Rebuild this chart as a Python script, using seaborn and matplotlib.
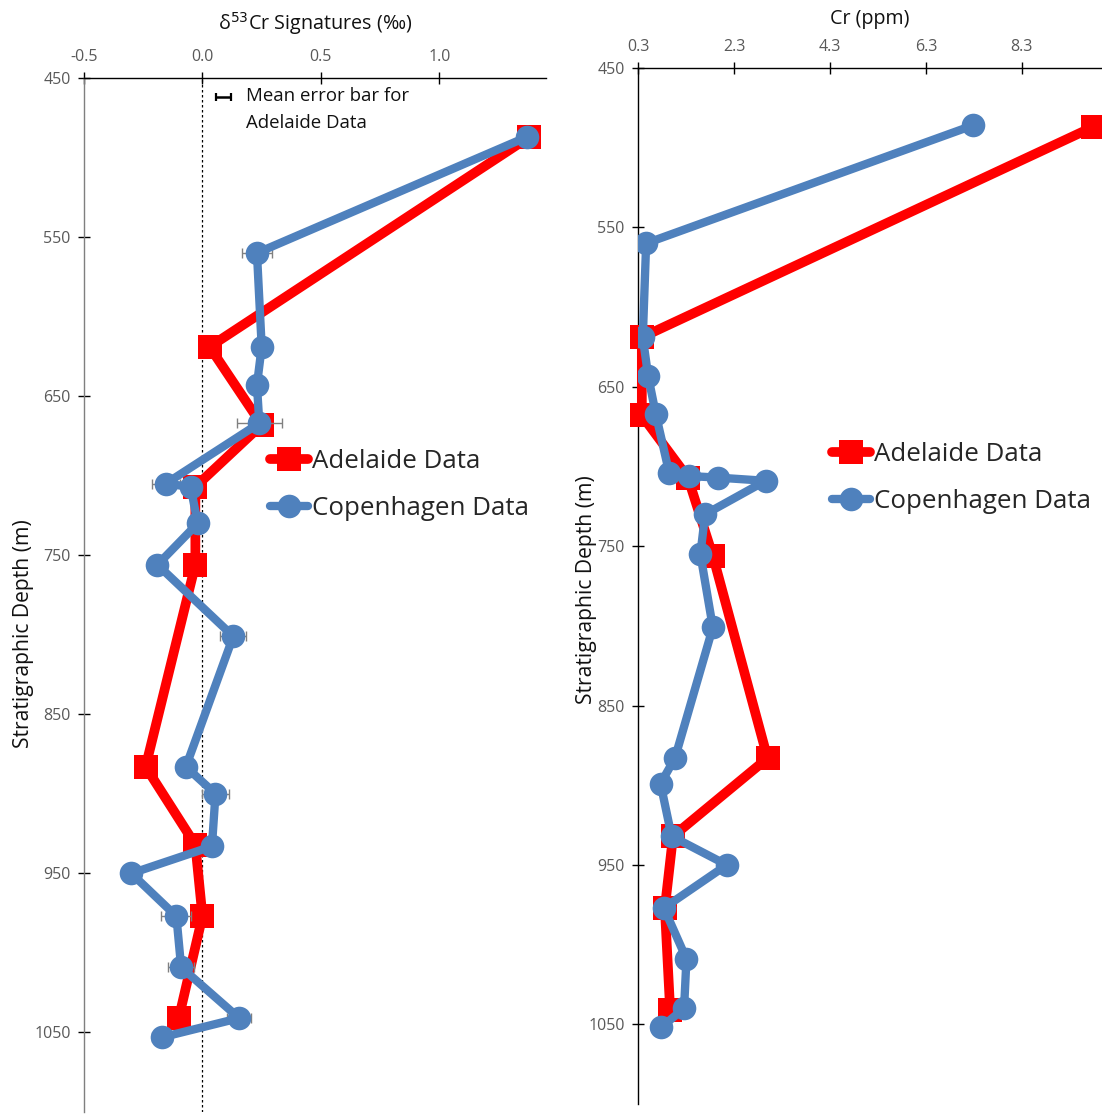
import numpy as np
import pandas as pd
import seaborn as sns
import matplotlib
matplotlib.use("Agg")
import matplotlib.pyplot as plt
from matplotlib.lines import Line2D

# ---------------- data ----------------
adl_depth = [487, 619, 668, 707, 756, 883, 932, 977, 1041]
adl_d53 = [1.38, 0.03, 0.25, -0.03, -0.03, -0.24, -0.03, 0.0, -0.10]
adl_cr = [9.78, 0.38, 0.38, 1.34, 1.86, 3.0, 1.03, 0.86, 0.97]

cph_d53_depth = [487, 560, 619, 643, 667, 705, 707, 730, 756, 801, 883, 900,
                 933, 950, 977, 1009, 1041, 1053]
cph_d53 = [1.37, 0.23, 0.25, 0.23, 0.24, -0.155, -0.05, -0.02, -0.19, 0.13,
           -0.07, 0.055, 0.04, -0.30, -0.11, -0.09, 0.155, -0.17]
cph_d53_err = [0.03, 0.065, 0.03, 0.03, 0.095, 0.06, 0.03, 0.03, 0.03, 0.055,
               0.03, 0.057, 0.03, 0.03, 0.063, 0.055, 0.05, 0.042]

cph_cr_depth = [486, 560, 619, 643, 667, 704, 706, 707, 709, 730, 755, 801,
                883, 899, 932, 950, 977, 1009, 1040, 1052]
cph_cr = [7.28, 0.47, 0.40, 0.51, 0.67, 0.95, 1.36, 1.97, 2.96, 1.70, 1.60,
          1.86, 1.07, 0.77, 1.00, 2.15, 0.84, 1.31, 1.26, 0.78]

mean_err_x, mean_err_y, mean_err = 0.09, 462, 0.032

left_xticks = [-0.5, 0.0, 0.5, 1.0]
right_xticks = [0.3, 2.3, 4.3, 6.3, 8.3]
depth_ticks = [450, 550, 650, 750, 850, 950, 1050]

# ---------------- style ----------------
sns.set_style("white")
plt.rcParams["font.family"] = ["Open Sans", "DejaVu Sans"]

RED = "#FF0000"
BLUE = "#4F81BD"
TICKC = "#595959"

W, H = 1102, 1118
fig = plt.figure(figsize=(W / 100, H / 100), dpi=100)

axL = fig.add_axes([84 / W, 1 - 1112 / H, (546 - 84) / W, (1112 - 78) / H])
axR = fig.add_axes([638 / W, 1 - 1104 / H, (1102 - 638) / W, (1104 - 68) / H])

adl_L = pd.DataFrame({"x": adl_d53, "depth": adl_depth})
cph_L = pd.DataFrame({"x": cph_d53, "depth": cph_d53_depth, "err": cph_d53_err})
adl_R = pd.DataFrame({"x": adl_cr, "depth": adl_depth})
cph_R = pd.DataFrame({"x": cph_cr, "depth": cph_cr_depth})

# left panel
axL.axvline(0, color="black", ls=(0, (2, 2)), lw=0.9, zorder=1)
sns.lineplot(data=adl_L, x="x", y="depth", sort=False, estimator=None, ax=axL,
             color=RED, lw=7, marker="s", markersize=17, markeredgewidth=0,
             zorder=3)
axL.errorbar(cph_L["x"], cph_L["depth"], xerr=cph_L["err"], fmt="none",
             ecolor="#808080", elinewidth=1, capsize=3.5, capthick=1, zorder=4)
sns.lineplot(data=cph_L, x="x", y="depth", sort=False, estimator=None, ax=axL,
             color=BLUE, lw=6, marker="o", markersize=17, markeredgewidth=0,
             zorder=5)
axL.errorbar([mean_err_x], [mean_err_y], xerr=[mean_err], fmt="none",
             ecolor="black", elinewidth=1.8, capsize=3, capthick=1.6)
axL.text(0.185, 470, "Mean error bar for\nAdelaide Data", fontsize=13.4,
         va="center", ha="left", linespacing=1.65, color="#111111")

# right panel
sns.lineplot(data=adl_R, x="x", y="depth", sort=False, estimator=None, ax=axR,
             color=RED, lw=7, marker="s", markersize=17, markeredgewidth=0,
             zorder=3, clip_on=False)
sns.lineplot(data=cph_R, x="x", y="depth", sort=False, estimator=None, ax=axR,
             color=BLUE, lw=6, marker="o", markersize=17, markeredgewidth=0,
             zorder=5)

for ax, xlim, xt, xlabel in [
        (axL, (-0.5, 1.45), left_xticks, "δ$^{53}$Cr Signatures (‰)"),
        (axR, (0.3, 9.97), right_xticks, "Cr (ppm)")]:
    ax.set_xlim(*xlim)
    ax.set_ylim(1100, 450)
    ax.xaxis.tick_top()
    ax.xaxis.set_label_position("top")
    ax.set_xticks(xt)
    ax.set_xticklabels(["{:.1f}".format(v) for v in xt])
    ax.set_yticks(depth_ticks)
    ax.set_xlabel(xlabel, fontsize=14.2, color="#111111")
    ax.set_ylabel("Stratigraphic Depth (m)", fontsize=15.2, color="#111111")
    ax.tick_params(axis="both", direction="inout", length=9, width=1,
                   colors="black", labelcolor=TICKC, labelsize=11.5,
                   top=True, left=True, bottom=False, right=False)
    ax.tick_params(axis="x", pad=5)
    ax.tick_params(axis="y", pad=5)
    for s in ["bottom", "right"]:
        ax.spines[s].set_visible(False)
    ax.spines["top"].set_color("black")
    ax.spines["top"].set_linewidth(1)
    ax.spines["left"].set_linewidth(1)
    ax.set_facecolor("none")
    ax.grid(False)

axL.yaxis.set_label_coords((34 - 84) / 462, (1112 - 634) / 1034)
axR.yaxis.set_label_coords((597 - 638) / 464, (1104 - 590) / 1036)
axL.xaxis.set_label_coords(0.5, (1112 - 30) / 1034)
axR.xaxis.set_label_coords(0.5, (1104 - 24) / 1036)

axL.spines["left"].set_color("#7f7f7f")
axR.spines["left"].set_color("black")

handles = [
    Line2D([], [], color=RED, lw=7, marker="s", markersize=17, markeredgewidth=0),
    Line2D([], [], color=BLUE, lw=6, marker="o", markersize=17, markeredgewidth=0),
]
labels = ["Adelaide Data", "Copenhagen Data"]
for ax, (bx, by) in [(axL, (270, 449)), (axR, (832, 442))]:
    ax.legend(handles, labels, loc="upper left",
              bbox_to_anchor=(bx / W, 1 - by / H),
              bbox_transform=fig.transFigure, frameon=False,
              fontsize=18.6, handlelength=1.47, handletextpad=0.15,
              labelspacing=0.85, borderpad=0, borderaxespad=0)

fig.savefig("out.png", dpi=100, facecolor="white")
